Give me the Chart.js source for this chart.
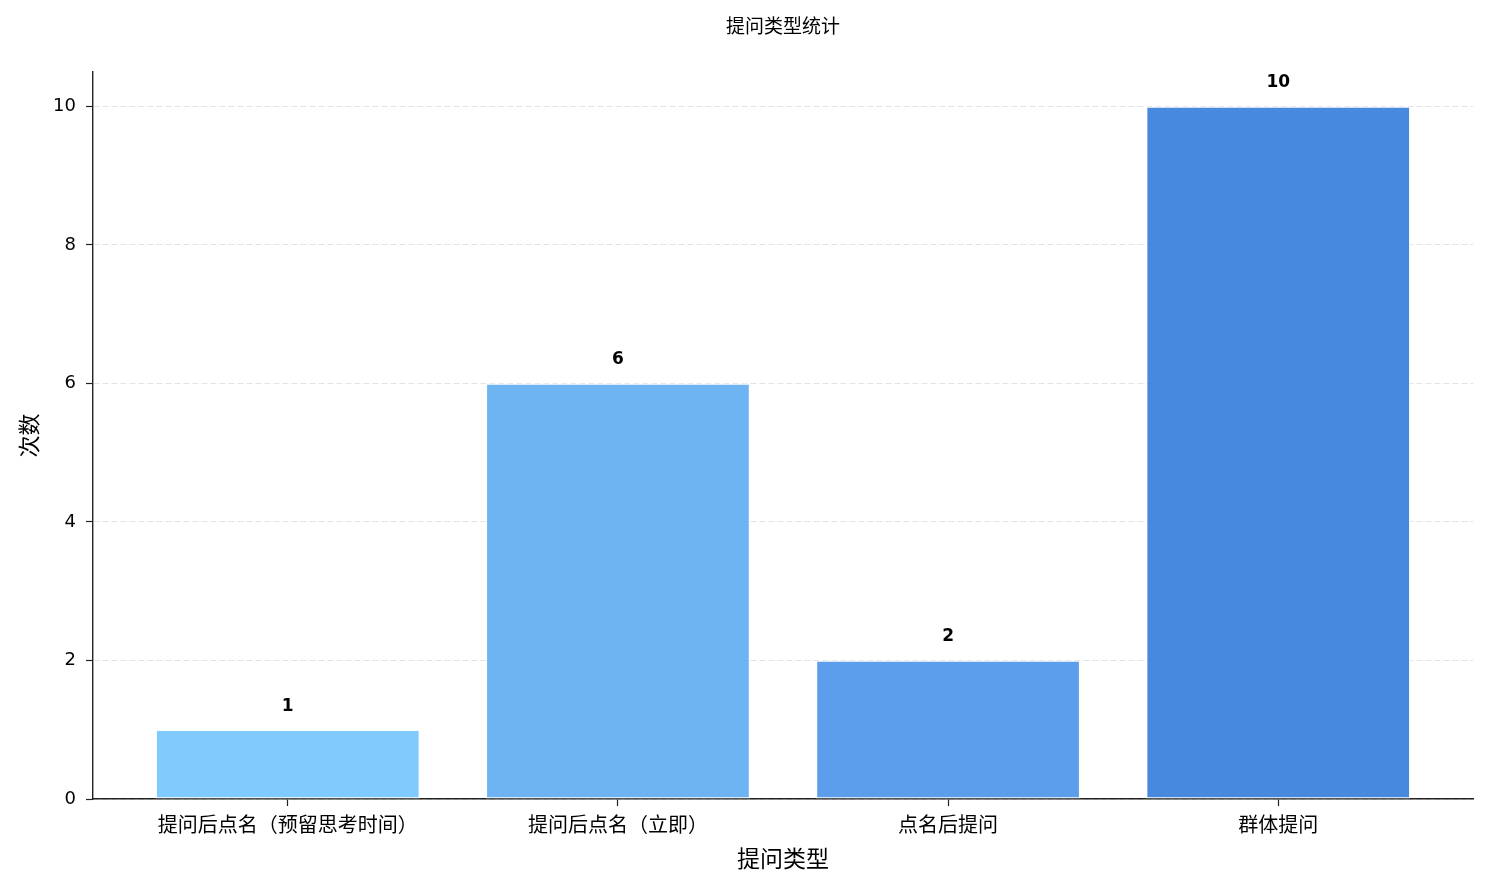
<!DOCTYPE html>
<html lang="zh">
<head>
<meta charset="utf-8">
<title>提问类型统计</title>
<script src="https://cdn.jsdelivr.net/npm/chart.js@4.4.1/dist/chart.umd.min.js"></script>
<style>
    html, body { margin: 0; padding: 0; background: #ffffff; }
    #wrap { width: 1488px; height: 889px; position: relative; }
</style>
</head>
<body>
<div id="wrap"><canvas id="questionChart"></canvas></div>
<script>
// Données du graphique
const categories = ['提问后点名（预留思考时间）', '提问后点名（立即）', '点名后提问', '群体提问'];
const counts = [1, 6, 2, 10];
const yTicks = [0, 2, 4, 6, 8, 10];
const barColors = [
    'rgba(115, 196, 253, 0.9)',
    'rgba(94, 172, 241, 0.9)',
    'rgba(74, 148, 233, 0.9)',
    'rgba(52, 124, 221, 0.9)'
];

const cjkFont = '"Noto Sans CJK SC", "Noto Sans", sans-serif';
const numFont = '"DejaVu Sans", "Noto Sans", sans-serif';
const axisColor = '#222222';

// Afficher la valeur au-dessus de chaque barre
const valueLabels = {
    id: 'valueLabels',
    afterDatasetsDraw(chart) {
        const ctx = chart.ctx;
        const meta = chart.getDatasetMeta(0);
        ctx.save();
        ctx.font = 'bold 17px ' + numFont;
        ctx.fillStyle = '#000000';
        ctx.textAlign = 'center';
        ctx.textBaseline = 'alphabetic';
        meta.data.forEach((bar, i) => {
            ctx.fillText(String(counts[i]), bar.x, bar.y - 19);
        });
        ctx.restore();
    }
};

const ctx = document.getElementById('questionChart').getContext('2d');
new Chart(ctx, {
    type: 'bar',
    data: {
        datasets: [{
            data: categories.map((c, i) => ({ x: i, y: counts[i] })),
            backgroundColor: barColors,
            borderColor: 'rgba(255, 255, 255, 0.85)',
            borderWidth: 1.2,
            borderSkipped: false,
            barPercentage: 0.8,
            categoryPercentage: 1.0
        }]
    },
    options: {
        responsive: true,
        maintainAspectRatio: false,
        animation: false,
        layout: { padding: { left: 0, right: 15, top: 0, bottom: 0 } },
        plugins: {
            legend: { display: false },
            tooltip: { enabled: false },
            title: {
                display: true,
                fullSize: false,
                text: '提问类型统计',
                color: '#000000',
                font: { family: cjkFont, size: 19, weight: 'normal', lineHeight: 1.2 },
                padding: { top: 14, bottom: 35 }
            }
        },
        scales: {
            x: {
                type: 'linear',
                min: -0.59,
                max: 3.59,
                offset: false,
                afterBuildTicks: (scale) => {
                    scale.ticks = categories.map((c, i) => ({ value: i }));
                },
                afterFit: (scale) => { scale.height = 90; },
                ticks: {
                    color: '#000000',
                    padding: 6,
                    autoSkip: false,
                    maxRotation: 0,
                    font: { family: cjkFont, size: 20 },
                    callback: (value) => categories[value]
                },
                grid: {
                    offset: false,
                    drawOnChartArea: false,
                    drawTicks: true,
                    tickLength: 7,
                    tickColor: axisColor,
                    tickWidth: 1.2
                },
                border: { display: true, color: axisColor, width: 1.4 },
                title: {
                    display: true,
                    text: '提问类型',
                    color: '#000000',
                    font: { family: cjkFont, size: 23 },
                    padding: { top: 0, bottom: 17 }
                }
            },
            y: {
                min: 0,
                max: 10.5,
                afterBuildTicks: (scale) => {
                    scale.ticks = yTicks.map(v => ({ value: v }));
                },
                afterFit: (scale) => { scale.width = 93; },
                ticks: {
                    color: '#000000',
                    padding: 10,
                    font: { family: numFont, size: 18 }
                },
                grid: {
                    color: 'rgba(176, 176, 176, 0.35)',
                    lineWidth: 1,
                    drawTicks: true,
                    tickLength: 7,
                    tickColor: axisColor,
                    tickWidth: 1.2,
                    tickBorderDash: []
                },
                border: { display: true, color: axisColor, width: 1.4, dash: [6, 3] },
                title: {
                    display: true,
                    text: '次数',
                    color: '#000000',
                    font: { family: cjkFont, size: 22 },
                    padding: { top: 15, bottom: 0 }
                }
            }
        }
    },
    plugins: [valueLabels]
});
</script>
</body>
</html>
